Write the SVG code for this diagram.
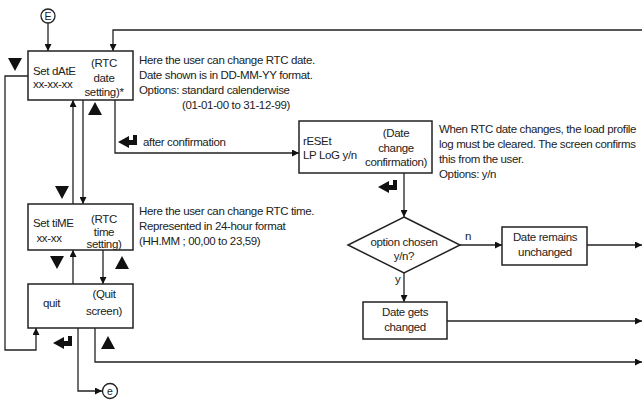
<svg xmlns="http://www.w3.org/2000/svg" xmlns:xlink="http://www.w3.org/1999/xlink" width="642" height="400" viewBox="0 0 642 400">
<style>
text{font-family:"Liberation Sans",Arial,sans-serif;font-size:11.5px;fill:#222;letter-spacing:-0.35px}
.m{text-anchor:middle}
.box{fill:#fff;stroke:#222;stroke-width:1.5}
.ln{fill:none;stroke:#222;stroke-width:1.3}
.arr{marker-end:url(#ah)}
.blk{fill:#111}
</style>
<defs>
<marker id="ah" viewBox="0 0 10 10" refX="10" refY="5" markerWidth="9" markerHeight="7" orient="auto" markerUnits="userSpaceOnUse"><path d="M0,0 L10,5 L0,10 z" fill="#111"/></marker>
<path id="ret" d="M0,7 L11,1 L11,5 L15,5 L15,0 L19,0 L19,10 L11,10 L11,13 Z"/>
<path id="tdn" d="M0,0 L14,0 L7,13 Z"/>
<path id="tup" d="M0,13 L14,13 L7,0 Z"/>
</defs>
<rect width="642" height="400" fill="#fff"/>
<g id="connectors">
<circle cx="48" cy="16" r="7" class="ln"/>
<text x="48" y="20" class="m" style="font-size:10.5px;letter-spacing:0">E</text>
<path class="ln arr" d="M48,23 V51"/>
<path class="ln arr" d="M642,30 H113 V51"/>
<path class="ln arr" d="M28,76 H5 V350 H36 V328"/>
<path class="ln arr" d="M73,204 V100"/>
<path class="ln arr" d="M83,100 V204"/>
<path class="ln arr" d="M73,284 V250"/>
<path class="ln arr" d="M103,250 V284"/>
<path class="ln arr" d="M115,100 V153 H299"/>
<path class="ln arr" d="M404,173 V217"/>
<path class="ln arr" d="M460,245 H502"/>
<path class="ln arr" d="M587,245 H642"/>
<path class="ln arr" d="M404,273 V302"/>
<path class="ln arr" d="M447,321 H642"/>
<path class="ln arr" d="M95,328 V362 H642"/>
<path class="ln arr" d="M78,328 V391 H102"/>
<circle cx="110" cy="391" r="7.5" class="ln"/>
<text x="110" y="395" class="m" style="font-size:10.5px;letter-spacing:0">e</text>
<text x="465" y="240">n</text>
<text x="395" y="283">y</text>
<text x="143" y="146">after confirmation</text>
<use xlink:href="#ret" x="118" y="135" class="blk"/>
<use xlink:href="#ret" x="378" y="180" class="blk"/>
<use xlink:href="#ret" x="53" y="336" class="blk"/>
<use xlink:href="#tdn" x="8" y="58" class="blk"/>
<use xlink:href="#tup" x="88" y="102" class="blk"/>
<use xlink:href="#tdn" x="55" y="186" class="blk"/>
<use xlink:href="#tdn" x="50" y="256" class="blk"/>
<use xlink:href="#tup" x="115" y="256" class="blk"/>
<use xlink:href="#tup" x="101" y="336" class="blk"/>
</g>
<g id="setdate">
<rect x="28" y="51" width="105" height="49" class="box"/>
<text x="33" y="75">Set dAtE</text>
<text x="33" y="88">xx-xx-xx</text>
<text x="104" y="67" class="m">(RTC</text>
<text x="104" y="82" class="m">date</text>
<text x="104" y="96" class="m">setting)*</text>
</g>
<g id="note-date">
<text x="139" y="64">Here the user can change RTC date.</text>
<text x="139" y="79">Date shown is in DD-MM-YY format.</text>
<text x="139" y="94">Options: standard calenderwise</text>
<text x="182" y="109">(01-01-00 to 31-12-99)</text>
</g>
<g id="settime">
<rect x="28" y="204" width="105" height="46" class="box"/>
<text x="33" y="227">Set tiME</text>
<text x="49" y="242" class="m">xx-xx</text>
<text x="104" y="223" class="m">(RTC</text>
<text x="104" y="236" class="m">time</text>
<text x="104" y="248" class="m">setting)</text>
</g>
<g id="note-time">
<text x="139" y="215">Here the user can change RTC time.</text>
<text x="139" y="230">Represented in 24-hour format</text>
<text x="139" y="245">(HH.MM ; 00,00 to 23,59)</text>
</g>
<g id="quit">
<rect x="28" y="284" width="105" height="44" class="box"/>
<text x="43" y="307">quit</text>
<text x="104" y="298" class="m">(Quit</text>
<text x="104" y="315" class="m">screen)</text>
</g>
<g id="reset">
<rect x="299" y="121" width="133" height="52" class="box"/>
<text x="303" y="145">rESEt</text>
<text x="303" y="159">LP LoG y/n</text>
<text x="396" y="137" class="m">(Date</text>
<text x="396" y="152" class="m">change</text>
<text x="396" y="166" class="m">confirmation)</text>
</g>
<g id="note-reset">
<text x="439" y="133">When RTC date changes, the load profile</text>
<text x="439" y="148">log must be cleared. The screen confirms</text>
<text x="439" y="163">this from the user.</text>
<text x="439" y="178">Options: y/n</text>
</g>
<g id="decision">
<path d="M404,217 L460,245 L404,273 L348,245 Z" class="box"/>
<text x="404" y="246" class="m">option chosen</text>
<text x="404" y="260" class="m">y/n?</text>
</g>
<g id="unchanged">
<rect x="502" y="227" width="85" height="38" class="box"/>
<text x="545" y="241" class="m">Date remains</text>
<text x="545" y="256" class="m">unchanged</text>
</g>
<g id="changed">
<rect x="363" y="302" width="84" height="37" class="box"/>
<text x="405" y="316" class="m">Date gets</text>
<text x="405" y="331" class="m">changed</text>
</g>
</svg>
